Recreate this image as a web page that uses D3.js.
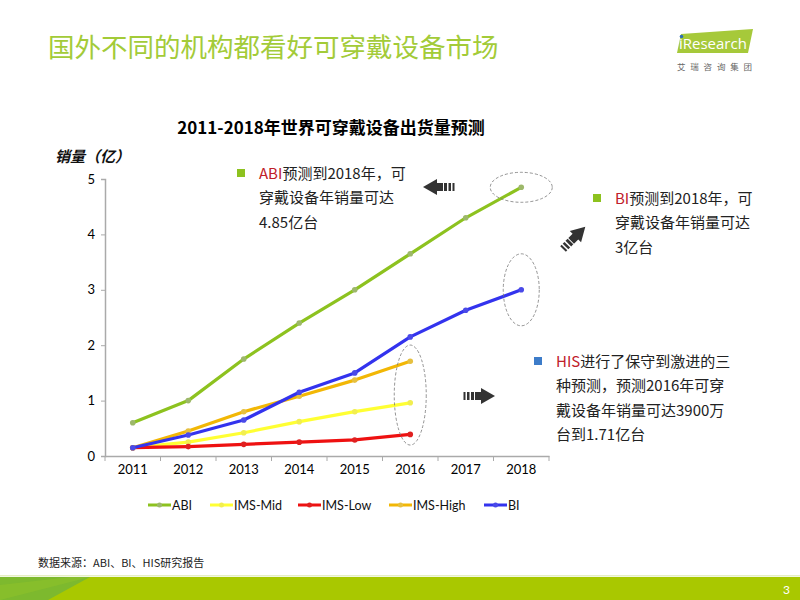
<!DOCTYPE html>
<html><head><meta charset="utf-8">
<script src="https://cdn.jsdelivr.net/npm/d3@7/dist/d3.min.js"></script>
<style>body{margin:0;background:#fff}svg{display:block}</style>
</head><body>
<svg id="c" width="800" height="600"></svg>
<script>
const years = ["2011","2012","2013","2014","2015","2016","2017","2018"];
const abi = [0.6, 1.0, 1.75, 2.4, 3.0, 3.65, 4.3, 4.85];
const imsMid = [0.15, 0.25, 0.42, 0.62, 0.8, 0.96];
const imsLow = [0.15, 0.17, 0.21, 0.25, 0.29, 0.39];
const imsHigh = [0.15, 0.45, 0.8, 1.08, 1.37, 1.71];
const bi = [0.15, 0.38, 0.65, 1.15, 1.5, 2.15, 2.63, 3.0];
const yTicks = [0, 1, 2, 3, 4, 5];
const seriesNames = ["ABI", "IMS-Mid", "IMS-Low", "IMS-High", "BI"];

const font = "'Lato','Noto Sans CJK SC',sans-serif";
const cjk = "'Noto Sans CJK SC',sans-serif";
const svg = d3.select("#c");

// page title
svg.append("text").attr("x", 48).attr("y", 57).attr("fill", "#A3CB38")
  .attr("font-family", cjk).attr("font-size", 26.5).text("国外不同的机构都看好可穿戴设备市场");

// logo
svg.append("path").attr("d", "M681,34 L753,29 L748,53 L677,53 Z").attr("fill", "#A6C93A");
svg.append("text").attr("x", 679).attr("y", 49).attr("fill", "#fff").attr("font-family", "'Open Sans',sans-serif")
  .attr("font-size", 15).text("iResearch");
svg.append("circle").attr("cx", 681.5).attr("cy", 36.5).attr("r", 1.8).attr("fill", "#2F6EB5");
svg.append("text").attr("x", 677).attr("y", 70).attr("fill", "#666").attr("font-family", cjk)
  .attr("font-size", 8.5).attr("letter-spacing", 4.8).text("艾瑞咨询集团");

// chart title
svg.append("text").attr("x", 331).attr("y", 134).attr("text-anchor", "middle").attr("fill", "#000")
  .attr("font-family", cjk).attr("font-weight", "bold").attr("font-size", 17).text("2011-2018年世界可穿戴设备出货量预测");

svg.append("text").attr("x", 55).attr("y", 162).attr("fill", "#111").attr("font-family", cjk)
  .attr("font-weight", "bold").attr("font-style", "italic").attr("font-size", 15).text("销量（亿）");

const x = d3.scaleBand().domain(years).range([105, 549]);
const y = d3.scaleLinear().domain([0, 5]).range([456, 179]);

// y axis
const ya = svg.append("g").attr("transform", "translate(105,0)")
  .call(d3.axisLeft(y).tickValues(yTicks).tickFormat(d3.format("d")).tickSize(4).tickPadding(6));
ya.select(".domain").attr("stroke", "#aaa").attr("stroke-width", 1.5);
ya.selectAll(".tick line").attr("stroke", "#aaa");
ya.selectAll("text").attr("font-family", font).attr("font-size", 13).attr("fill", "#000");

// x axis
const xa = svg.append("g").attr("transform", "translate(0,456)")
  .call(d3.axisBottom(x).tickSize(0).tickPadding(9));
xa.select(".domain").attr("stroke", "#aaa").attr("stroke-width", 1.5);
xa.selectAll("text").attr("font-family", font).attr("font-size", 13).attr("fill", "#000");
const bounds = years.map((d) => x(d)).concat([x.range()[1]]);
xa.selectAll(".bt").data(bounds).enter().append("line").attr("class", "bt")
  .attr("x1", (d) => d).attr("x2", (d) => d).attr("y1", 0).attr("y2", 5).attr("stroke", "#aaa");

const series = [
  { name: "ABI", vals: abi, color: "#8DC21F", mk: "#9DB86A" },
  { name: "IMS-Mid", vals: imsMid, color: "#FFFF33", mk: "#F2EE50" },
  { name: "IMS-Low", vals: imsLow, color: "#EE1111", mk: "#E02020" },
  { name: "IMS-High", vals: imsHigh, color: "#F2B705", mk: "#E6C040" },
  { name: "BI", vals: bi, color: "#3333EE", mk: "#4A4AE8" }
];
const cx = (i) => x(years[i]) + x.bandwidth() / 2;
const line = d3.line().x((d, i) => cx(i)).y((d) => y(d));
series.forEach((s) => {
  svg.append("path").datum(s.vals).attr("d", line).attr("fill", "none")
    .attr("stroke", s.color).attr("stroke-width", 3.2).attr("stroke-linejoin", "round");
  svg.selectAll(null).data(s.vals).enter().append("circle")
    .attr("cx", (d, i) => cx(i)).attr("cy", (d) => y(d)).attr("r", 2.8).attr("fill", s.mk);
});

// legend
const legX = [148, 210, 298, 389, 484];
series.forEach((s, i) => {
  const g = svg.append("g").attr("transform", `translate(${legX[i]},505)`);
  g.append("line").attr("x1", 0).attr("x2", 23).attr("y1", 0).attr("y2", 0).attr("stroke", s.color).attr("stroke-width", 3);
  g.append("circle").attr("cx", 11.5).attr("cy", 0).attr("r", 2.5).attr("fill", s.mk);
  g.append("text").attr("x", 24).attr("y", 4.5).attr("font-family", font).attr("font-size", 12.5)
    .attr("fill", "#111").text(s.name);
});

// dashed ellipses
const ell = [[x("2018") + x.bandwidth() / 2, y(4.85), 31, 15], [x("2018") + x.bandwidth() / 2, y(3.0), 18, 36], [x("2016") + x.bandwidth() / 2, y(1.1), 16, 50]];
ell.forEach((e) => svg.append("ellipse").attr("cx", e[0]).attr("cy", e[1]).attr("rx", e[2]).attr("ry", e[3])
  .attr("fill", "none").attr("stroke", "#777").attr("stroke-width", 0.8).attr("stroke-dasharray", "3,2"));

// annotations
function note(sqX, sqY, sqColor, lines, firstRed) {
  svg.append("rect").attr("x", sqX).attr("y", sqY - 4).attr("width", 8).attr("height", 8).attr("fill", sqColor);
  lines.forEach((t, i) => {
    const tx = svg.append("text").attr("x", sqX + 22).attr("y", sqY + 5.5 + i * 24.5)
      .attr("font-family", cjk).attr("font-size", 15).attr("fill", "#222");
    if (i === 0) {
      tx.append("tspan").attr("fill", "#C0202A").text(firstRed);
      tx.append("tspan").text(t);
    } else tx.text(t);
  });
}
note(237, 173, "#8DC21F", ["预测到2018年，可", "穿戴设备年销量可达", "4.85亿台"], "ABI");
note(593, 198, "#8DC21F", ["预测到2018年，可", "穿戴设备年销量可达", "3亿台"], "BI");
note(534, 361, "#3D7CC9", ["进行了保守到激进的三", "种预测，预测2016年可穿", "戴设备年销量可达3900万", "台到1.71亿台"], "HIS");

// block arrows
function arrow(tx, ty, rot) {
  const g = svg.append("g").attr("transform", `translate(${tx},${ty}) rotate(${rot})`).attr("fill", "#333");
  g.append("path").attr("d", "M16,0 L2,-8 L2,-4 L-4,-4 L-4,4 L2,4 L2,8 Z");
  g.append("rect").attr("x", -8).attr("y", -4).attr("width", 3).attr("height", 8);
  g.append("rect").attr("x", -12).attr("y", -4).attr("width", 2.5).attr("height", 8);
  g.append("rect").attr("x", -15.5).attr("y", -4).attr("width", 2).attr("height", 8);
}
arrow(439, 187, 180);
arrow(574, 238, -45);
arrow(479, 396, 0);

// source
svg.append("text").attr("x", 38).attr("y", 567).attr("font-family", cjk).attr("font-size", 11)
  .attr("fill", "#222").text("数据来源：ABI、BI、HIS研究报告");

// footer
svg.append("rect").attr("x", 0).attr("y", 575).attr("width", 800).attr("height", 1.5).attr("fill", "#E6EFC4");
svg.append("rect").attr("x", 0).attr("y", 577).attr("width", 800).attr("height", 23).attr("fill", "#A9C800");
svg.append("path").attr("d", "M0,577 L90,577 L48,600 L0,600 Z").attr("fill", "#7DB92E");
svg.append("path").attr("d", "M0,585 L70,577 L90,577 L0,600 Z").attr("fill", "#8EC12A").attr("opacity", 0.6);
svg.append("text").attr("x", 790).attr("y", 594).attr("text-anchor", "end").attr("font-family", font)
  .attr("font-size", 12).attr("fill", "#fff").text("3");
</script>
</body></html>
